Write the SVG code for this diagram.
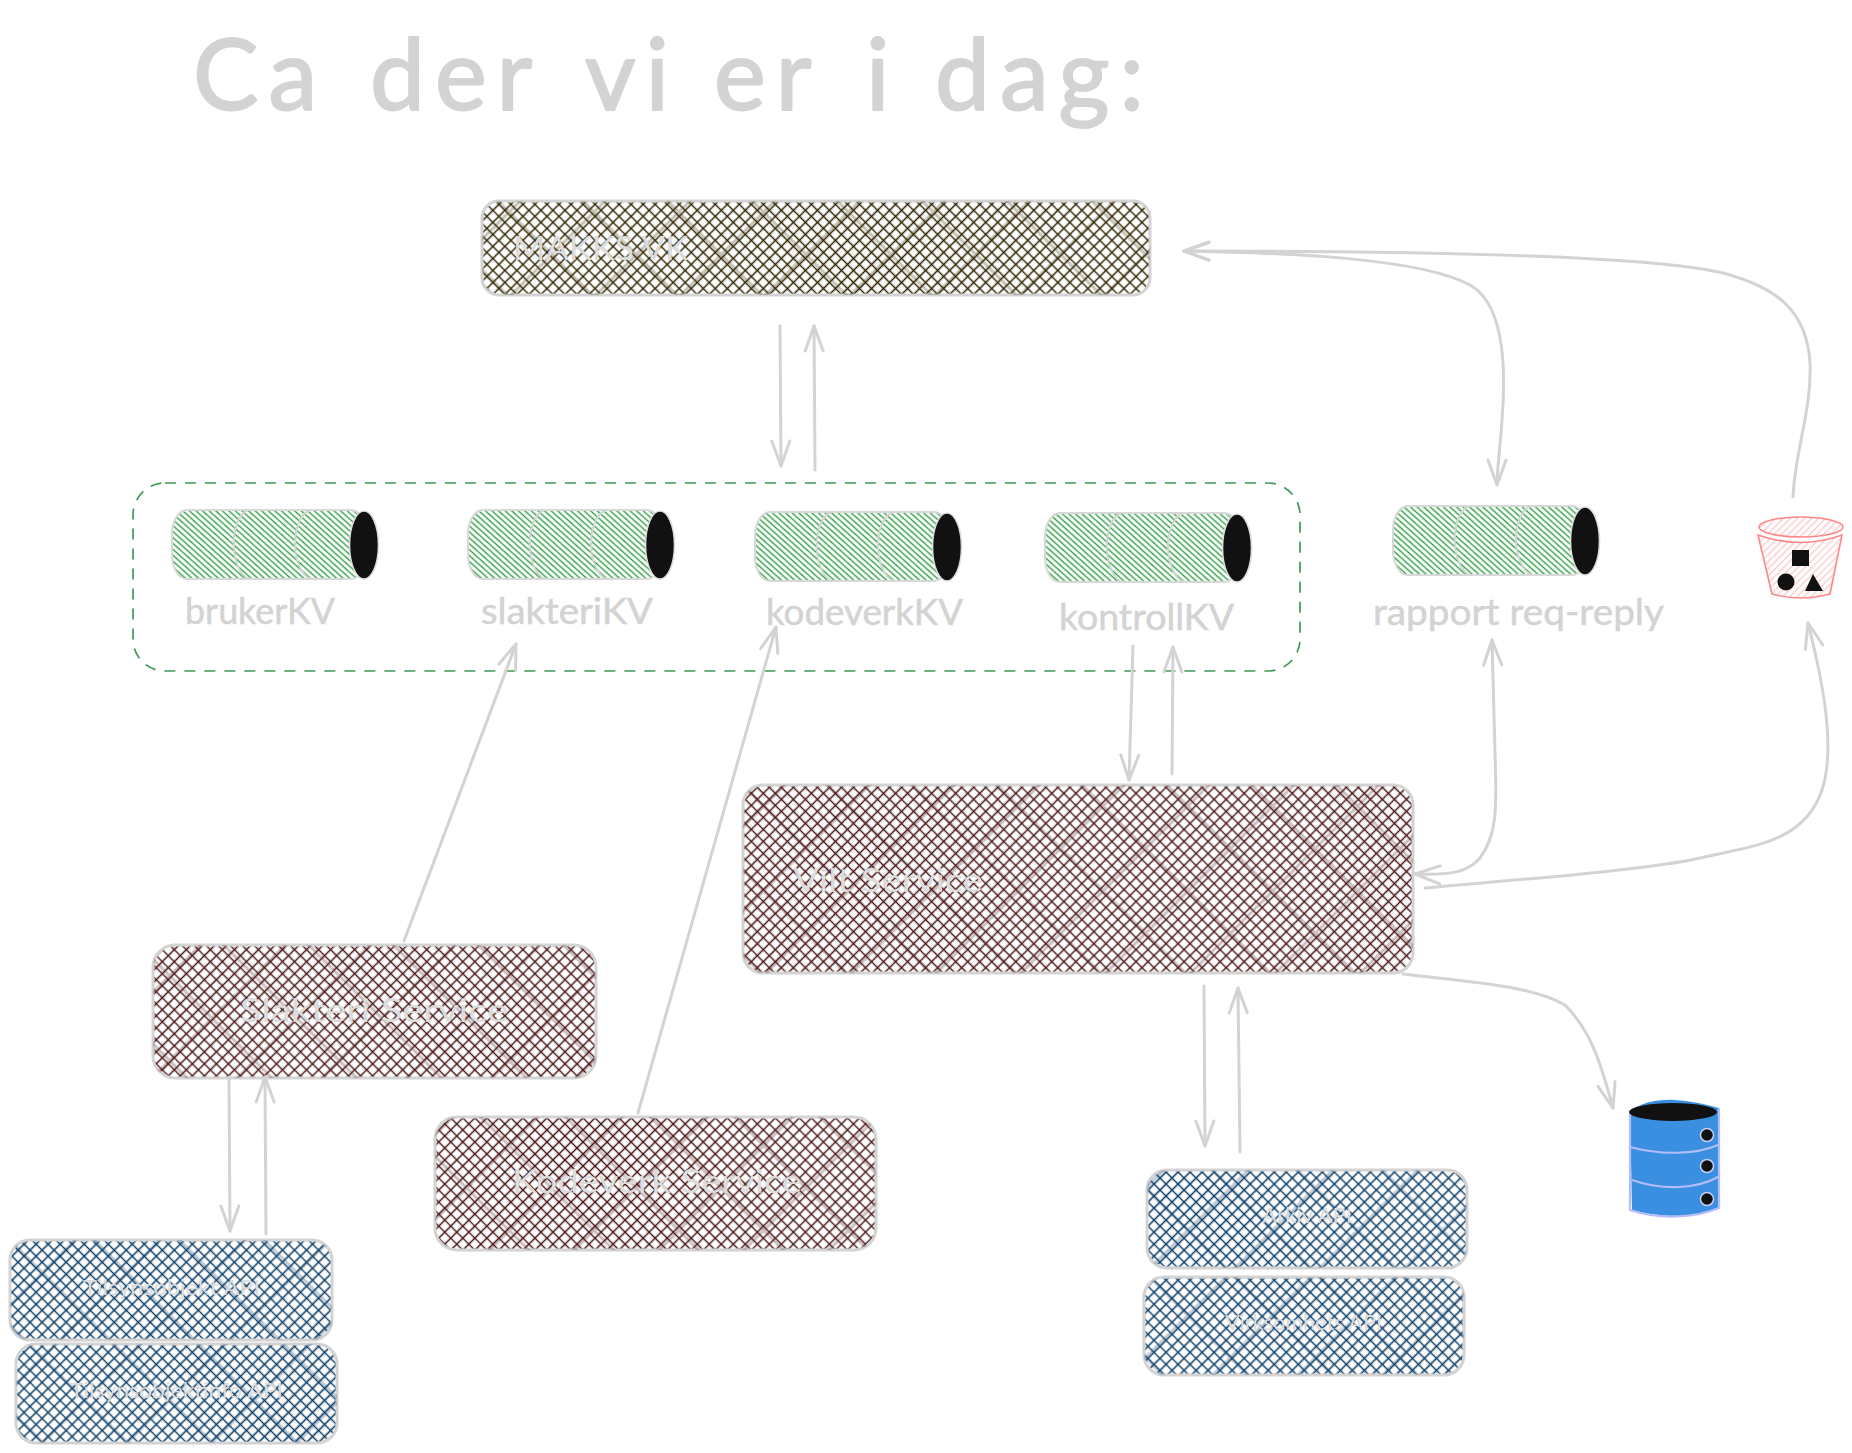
<svg xmlns="http://www.w3.org/2000/svg" width="1852" height="1453" viewBox="0 0 1852 1453">
<style>
text{font-family:"Lato","Open Sans",sans-serif;fill:#d3d3d3}
.title{font-size:98px;letter-spacing:10px;stroke:#d3d3d3;stroke-width:2px;stroke-linejoin:round}
.lab{font-size:36px;stroke:#d3d3d3;stroke-width:.5px}
.box{font-size:33px;fill:#dcdcdc}
.small{font-size:21.5px}
.conn{fill:none;stroke:#d3d3d3;stroke-width:3;stroke-linecap:round;stroke-linejoin:round;marker-end:url(#head)}
.both{marker-start:url(#head)}
.edge{stroke:#d3d3d3;stroke-width:3}
.seam{fill:none;stroke:#d4d4d4;stroke-width:2}
.bk{fill:#111}
.bucket{stroke:#ff8787;stroke-width:1.6}
.dbline{fill:none;stroke:#b4bdfb;stroke-width:2.2}
</style>
<defs>
<marker id="head" viewBox="-28 -12 32 24" refX="0" refY="0" markerWidth="32" markerHeight="24" markerUnits="userSpaceOnUse" orient="auto-start-reverse"><path d="M-25 -9L0 0L-25 9" fill="none" stroke="#d3d3d3" stroke-width="3" stroke-linecap="round" stroke-linejoin="round"/></marker>
<pattern id="hOlive" width="8.5" height="8.5" patternUnits="userSpaceOnUse" patternTransform="rotate(45)"><path d="M0 4.25H8.5M4.25 0V8.5" stroke="#2e2300" stroke-width="1.5"/></pattern>
<pattern id="hMaroon" width="8.5" height="8.5" patternUnits="userSpaceOnUse" patternTransform="rotate(45)"><path d="M0 4.25H8.5M4.25 0V8.5" stroke="#4a1818" stroke-width="1.5"/></pattern>
<pattern id="hBlue" width="8.5" height="8.5" patternUnits="userSpaceOnUse" patternTransform="rotate(45)"><path d="M0 4.25H8.5M4.25 0V8.5" stroke="#0f4069" stroke-width="1.6"/></pattern>
<pattern id="hMaroon2" width="60" height="60" patternUnits="userSpaceOnUse" patternTransform="rotate(45)"><path d="M0 30H60M30 0V60" stroke="#4a1818" stroke-width="3" opacity=".28"/></pattern>
<pattern id="hBlue2" width="60" height="60" patternUnits="userSpaceOnUse" patternTransform="rotate(45)"><path d="M0 30H60M30 0V60" stroke="#0f4069" stroke-width="3" opacity=".28"/></pattern>
<pattern id="hOlive2" width="60" height="60" patternUnits="userSpaceOnUse" patternTransform="rotate(45)"><path d="M0 30H60M30 0V60" stroke="#2e2300" stroke-width="3" opacity=".28"/></pattern>
<pattern id="hGreen" width="4.4" height="4.4" patternUnits="userSpaceOnUse" patternTransform="rotate(42)"><path d="M0 2.2H4.4" stroke="#2f9e44" stroke-width="1.4"/></pattern>
<pattern id="hRed" width="5" height="5" patternUnits="userSpaceOnUse" patternTransform="rotate(-45)"><path d="M0 2.5H5" stroke="#ffc2c2" stroke-width="1.2"/></pattern>
<g id="tube">
<rect x="0" y="0" width="194" height="69" rx="15" ry="24" fill="url(#hGreen)" stroke="#d8d8d8" stroke-width="2"/>
<path class="seam" d="M76 0C57 8 57 58 76 69M138 0C118 8 118 58 138 69"/>
<ellipse cx="192" cy="35" rx="14.5" ry="34" class="bk" stroke="#dcdcdc" stroke-width="1.6"/>
</g>
</defs>
<rect width="1852" height="1453" fill="#fff"/>
<g id="title"><text class="title" y="110"><tspan x="193">Ca</tspan> <tspan x="370">der</tspan> <tspan x="585">vi</tspan> <tspan x="714">er</tspan> <tspan x="866">i</tspan> <tspan x="935">dag:</tspan></text></g>
<g id="group-frame"><rect x="133" y="483" width="1167" height="188" rx="32" fill="none" stroke="#3c9a55" stroke-width="1.7" stroke-dasharray="11 9"/></g>
<g id="makks"><rect x="482" y="201" width="668" height="94" rx="17" fill="url(#hOlive)" class="edge"/><rect x="482" y="201" width="668" height="94" rx="17" fill="url(#hOlive2)"/><text class="box" x="513" y="260" textLength="175" lengthAdjust="spacingAndGlyphs">MAKKS VK</text></g>
<g id="vilt"><rect x="743" y="785" width="670" height="188" rx="20" fill="url(#hMaroon)" class="edge"/><rect x="743" y="785" width="670" height="188" rx="20" fill="url(#hMaroon2)"/><text class="box" x="793" y="892" textLength="190" lengthAdjust="spacingAndGlyphs">Vilt Service</text></g>
<g id="slakteri"><rect x="153" y="945" width="443" height="133" rx="22" fill="url(#hMaroon)" class="edge"/><rect x="153" y="945" width="443" height="133" rx="22" fill="url(#hMaroon2)"/><text class="box" x="240" y="1022" textLength="268" lengthAdjust="spacingAndGlyphs">Slakteri Service</text></g>
<g id="kodeverk"><rect x="435" y="1117" width="441" height="133" rx="22" fill="url(#hMaroon)" class="edge"/><rect x="435" y="1117" width="441" height="133" rx="22" fill="url(#hMaroon2)"/><text class="box" x="512" y="1193" textLength="290" lengthAdjust="spacingAndGlyphs">Kodeverk Service</text></g>
<g id="tilsyn"><rect x="10" y="1240" width="322" height="100" rx="20" fill="url(#hBlue)" class="edge"/><rect x="10" y="1240" width="322" height="100" rx="20" fill="url(#hBlue2)"/><text class="box small" x="83" y="1295" textLength="177" lengthAdjust="spacingAndGlyphs">Tilsynsobjekt API</text></g>
<g id="tilsyninfo"><rect x="16" y="1344" width="321" height="99" rx="20" fill="url(#hBlue)" class="edge"/><rect x="16" y="1344" width="321" height="99" rx="20" fill="url(#hBlue2)"/><text class="box small" x="70" y="1398" textLength="213" lengthAdjust="spacingAndGlyphs">Tilsynsobjektinfo API</text></g>
<g id="arkiv"><rect x="1147" y="1170" width="320" height="98" rx="20" fill="url(#hBlue)" class="edge"/><rect x="1147" y="1170" width="320" height="98" rx="20" fill="url(#hBlue2)"/><text class="box small" x="1262" y="1223" textLength="90" lengthAdjust="spacingAndGlyphs">Arkiv API</text></g>
<g id="virksomhet"><rect x="1144" y="1277" width="320" height="98" rx="20" fill="url(#hBlue)" class="edge"/><rect x="1144" y="1277" width="320" height="98" rx="20" fill="url(#hBlue2)"/><text class="box small" x="1225" y="1330" textLength="157" lengthAdjust="spacingAndGlyphs">Virksomhets API</text></g>
<g id="brukerKV"><use href="#tube" transform="translate(172 510)"/><text class="lab" x="185" y="624" textLength="150" lengthAdjust="spacingAndGlyphs">brukerKV</text></g>
<g id="slakteriKV"><use href="#tube" transform="translate(468 510)"/><text class="lab" x="481" y="624" textLength="172" lengthAdjust="spacingAndGlyphs">slakteriKV</text></g>
<g id="kodeverkKV"><use href="#tube" transform="translate(755 512)"/><text class="lab" x="766" y="625" textLength="197" lengthAdjust="spacingAndGlyphs">kodeverkKV</text></g>
<g id="kontrollKV"><use href="#tube" transform="translate(1045 513)"/><text class="lab" x="1059" y="630" textLength="175" lengthAdjust="spacingAndGlyphs">kontrollKV</text></g>
<g id="rapport"><use href="#tube" transform="translate(1393 506)"/><text class="lab" x="1373" y="625" textLength="291" lengthAdjust="spacingAndGlyphs">rapport req-reply</text></g>
<g id="bucket">
<path class="bucket" fill="url(#hRed)" d="M1758 535L1772 594Q1801 602 1830 594L1842 535Q1801 550 1758 535Z"/>
<ellipse class="bucket" cx="1801" cy="527" rx="42" ry="10" fill="url(#hRed)"/>
<rect class="bk" x="1792" y="550" width="17" height="16"/>
<circle class="bk" cx="1786" cy="582" r="8.5"/>
<path class="bk" d="M1813 574L1823 591H1805Z"/>
</g>
<g id="database">
<path fill="#3a8fe0" d="M1630 1112C1640 1102 1660 1099 1675 1100C1690 1101 1700 1103 1719 1108V1208C1700 1218 1660 1218 1632 1210Z"/>
<path class="dbline" d="M1630 1112V1210C1660 1220 1695 1218 1719 1208V1108M1630 1147C1660 1155 1695 1155 1718 1145M1632 1180C1660 1190 1695 1190 1718 1177"/>
<ellipse class="bk" cx="1673" cy="1112" rx="44" ry="9"/>
<circle class="bk" stroke="#c9cffb" stroke-width="1.5" cx="1707" cy="1135" r="6.5"/>
<circle class="bk" stroke="#c9cffb" stroke-width="1.5" cx="1707" cy="1166" r="6.5"/>
<circle class="bk" stroke="#c9cffb" stroke-width="1.5" cx="1707" cy="1199" r="6.5"/>
</g>
<g id="connectors">
<path class="conn" d="M780 326L781 466"/>
<path class="conn" d="M815 470L814 326"/>
<path class="conn both" d="M1184 251C1290 253 1420 258 1470 285C1505 305 1506 370 1502 420C1500 450 1497 470 1497 485"/>
<path class="conn" d="M1793 497C1795 450 1812 410 1810 363C1807 310 1775 288 1730 275C1680 260 1500 251 1184 251"/>
<path class="conn both" d="M1492 640L1495 753C1497 810 1497 835 1480 858C1467 874 1445 875 1415 874"/>
<path class="conn" d="M1425 888C1500 881 1650 870 1700 858C1760 845 1805 840 1822 790C1835 750 1825 690 1808 623"/>
<path class="conn" d="M1403 974C1470 982 1530 985 1565 1005C1590 1030 1600 1060 1613 1108"/>
<path class="conn" d="M1133 646L1129 780"/>
<path class="conn" d="M1172 774L1173 647"/>
<path class="conn" d="M1204 986L1205 1146"/>
<path class="conn" d="M1240 1152L1238 988"/>
<path class="conn" d="M229 1077L230 1231"/>
<path class="conn" d="M266 1234L265 1077"/>
<path class="conn" d="M404 941L516 644"/>
<path class="conn" d="M638 1113L776 627"/>
</g>
</svg>
